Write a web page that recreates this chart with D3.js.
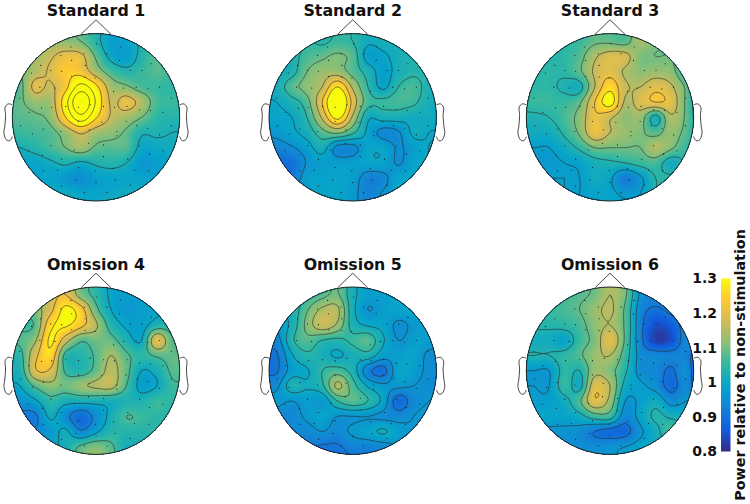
<!DOCTYPE html>
<html>
<head>
<meta charset="utf-8">
<script src="https://cdn.jsdelivr.net/npm/d3@7"></script>
<style>
  body { margin: 0; background: #fff; }
  text { font-family: "DejaVu Sans", sans-serif; font-weight: bold; fill: #111; }
</style>
</head>
<body>
<svg id="chart" width="750" height="504"></svg>
<script>
// power values, 13x13 samples across the head square
var standard1 = [
  [1.08,1.08,1.08,1.10,1.12,1.09,1.05,0.99,1.00,1.04,1.07,1.07,1.07],
  [1.10,1.10,1.12,1.13,1.12,1.10,1.04,0.98,0.99,1.03,1.07,1.07,1.07],
  [1.12,1.12,1.14,1.17,1.21,1.20,1.09,1.00,0.98,1.04,1.08,1.08,1.08],
  [1.10,1.10,1.15,1.19,1.24,1.23,1.14,1.07,1.04,1.06,1.08,1.07,1.07],
  [1.07,1.08,1.20,1.17,1.24,1.37,1.28,1.14,1.11,1.07,1.06,1.05,1.05],
  [1.07,1.09,1.13,1.14,1.31,1.50,1.33,1.17,1.21,1.15,1.07,1.06,1.06],
  [1.07,1.08,1.09,1.12,1.26,1.39,1.27,1.17,1.14,1.10,1.05,1.04,1.04],
  [1.05,1.06,1.07,1.08,1.13,1.19,1.14,1.12,1.09,1.03,1.03,1.02,1.02],
  [1.02,1.02,1.04,1.07,1.10,1.14,1.09,1.08,1.08,1.00,1.00,1.01,1.01],
  [0.99,0.99,0.99,1.01,1.03,1.01,1.03,1.04,1.02,0.97,0.98,0.99,0.99],
  [0.99,0.99,0.99,0.99,0.97,0.95,0.98,0.99,0.99,0.99,0.99,0.99,0.99],
  [1.01,1.01,1.01,1.01,1.01,0.99,0.99,1.00,1.01,1.01,1.01,1.01,1.01],
  [1.01,1.01,1.01,1.01,1.01,1.01,1.01,1.03,1.01,1.01,1.01,1.01,1.01]
];
var standard2 = [
  [1.00,1.00,1.00,1.01,1.03,1.06,1.05,1.03,1.02,1.02,1.02,1.02,1.02],
  [1.00,1.00,1.02,1.05,1.04,1.06,1.05,1.01,1.02,1.02,1.02,1.02,1.02],
  [1.00,1.01,1.03,1.07,1.09,1.11,1.08,0.98,0.99,1.02,1.03,1.03,1.03],
  [1.00,1.01,1.03,1.10,1.13,1.13,1.08,1.03,0.98,1.02,1.04,1.03,1.03],
  [1.00,1.02,1.08,1.12,1.16,1.28,1.15,1.05,0.99,1.05,1.07,1.03,1.02],
  [1.00,1.00,1.03,1.08,1.22,1.38,1.20,1.07,1.06,1.07,1.06,1.02,1.01],
  [0.99,0.99,1.00,1.05,1.17,1.30,1.15,1.01,1.02,1.02,1.01,1.01,1.00],
  [0.96,0.97,0.99,1.02,1.08,1.11,1.06,0.99,0.94,0.95,1.01,1.00,1.00],
  [0.93,0.93,0.95,0.98,1.02,0.94,0.94,0.99,0.99,0.95,0.98,1.00,1.00],
  [0.90,0.90,0.90,0.96,0.98,0.98,0.98,0.99,0.99,0.95,0.99,1.00,1.00],
  [0.92,0.92,0.92,0.98,0.985,0.99,0.98,0.93,0.94,0.99,0.99,0.99,0.99],
  [0.96,0.96,0.96,0.98,0.99,0.99,0.97,0.93,0.96,0.99,0.99,0.99,0.99],
  [0.98,0.98,0.98,0.98,0.99,0.99,0.97,0.94,0.97,0.99,0.99,0.99,0.99]
];
var standard3 = [
  [1.03,1.03,1.03,1.04,1.06,1.09,1.09,1.08,1.14,1.11,1.10,1.09,1.09],
  [1.03,1.03,1.03,1.05,1.06,1.09,1.09,1.08,1.14,1.11,1.10,1.09,1.09],
  [1.04,1.04,1.04,1.05,1.08,1.15,1.19,1.18,1.11,1.10,1.10,1.08,1.08],
  [1.05,1.05,1.05,1.05,1.09,1.17,1.20,1.15,1.12,1.13,1.12,1.05,1.05],
  [1.05,1.05,1.05,1.03,1.02,1.16,1.26,1.17,1.16,1.20,1.17,1.09,1.01],
  [1.05,1.06,1.06,1.06,1.09,1.22,1.31,1.15,1.19,1.22,1.20,1.09,0.99],
  [1.03,1.03,1.04,1.07,1.12,1.21,1.17,1.12,1.13,1.02,1.15,1.09,0.99],
  [1.00,1.01,1.01,1.05,1.11,1.21,1.16,1.13,1.11,1.08,1.13,1.08,1.02],
  [0.98,0.98,0.98,1.01,1.05,1.10,1.10,1.10,1.10,1.15,1.11,1.06,1.06],
  [0.97,0.97,0.97,0.98,0.99,1.02,1.03,1.04,1.06,1.07,1.01,1.05,1.09],
  [0.98,0.98,0.98,0.98,0.98,1.01,0.99,0.92,0.97,1.04,1.05,1.05,1.05],
  [0.98,0.98,0.98,0.98,0.98,0.99,0.99,0.97,0.98,1.04,1.04,1.04,1.04],
  [0.98,0.98,0.98,0.98,0.98,0.99,1.00,0.99,1.00,1.04,1.04,1.04,1.04]
];
var omission4 = [
  [1.15,1.15,1.16,1.18,1.20,1.11,1.05,0.99,0.98,0.98,0.98,0.98,0.98],
  [1.13,1.13,1.15,1.18,1.21,1.11,1.05,0.99,0.98,0.98,0.98,0.98,0.98],
  [1.08,1.08,1.11,1.19,1.30,1.24,1.09,1.00,0.97,0.98,0.99,0.99,0.99],
  [1.06,1.06,1.08,1.26,1.29,1.23,1.15,1.04,0.99,0.98,1.03,1.04,1.04],
  [1.08,1.08,1.13,1.29,1.17,1.08,1.10,1.09,1.03,1.00,1.20,1.08,1.07],
  [1.05,1.05,1.19,1.26,1.05,1.04,1.08,1.14,1.08,1.05,1.08,1.09,1.09],
  [1.03,1.03,1.20,1.20,1.06,1.04,1.09,1.16,1.09,1.00,1.02,1.08,1.08],
  [1.00,1.00,1.08,1.12,1.10,1.13,1.15,1.16,1.07,0.98,1.00,1.06,1.06],
  [0.96,0.96,0.99,1.05,1.02,1.02,1.02,1.02,1.03,1.03,1.06,1.05,1.05],
  [0.92,0.92,0.92,1.01,0.95,0.89,0.95,1.02,1.07,1.06,1.05,1.04,1.04],
  [0.94,0.94,0.94,0.97,1.01,0.94,0.99,1.04,1.04,1.04,1.04,1.04,1.04],
  [0.99,0.99,0.99,0.99,1.02,1.08,1.11,1.08,1.02,1.03,1.04,1.04,1.04],
  [1.01,1.01,1.01,1.01,1.04,1.09,1.13,1.09,1.04,1.03,1.04,1.04,1.04]
];
var omission5 = [
  [1.02,1.02,1.02,1.04,1.08,1.10,1.02,0.98,0.98,0.99,0.99,0.99,0.99],
  [1.02,1.02,1.02,1.05,1.08,1.10,1.02,0.98,0.98,0.99,0.99,0.99,0.99],
  [1.01,1.01,1.02,1.09,1.15,1.15,1.02,0.96,0.98,0.99,0.99,0.99,0.99],
  [0.97,0.97,1.02,1.11,1.17,1.13,1.03,1.00,0.99,0.95,0.97,0.98,0.98],
  [0.94,0.94,1.04,1.08,1.05,1.04,1.06,1.08,1.01,0.96,0.98,0.98,0.98],
  [0.91,0.91,1.00,1.04,1.02,1.00,1.02,1.03,0.98,0.98,0.99,0.95,0.95],
  [0.91,0.91,0.98,1.00,1.05,1.07,1.03,0.93,0.90,0.99,0.98,0.95,0.95],
  [0.95,0.95,1.03,1.01,1.04,1.15,1.07,1.00,0.97,0.97,0.96,0.95,0.95],
  [0.97,0.97,0.96,0.98,0.97,1.05,1.08,1.05,0.99,0.89,0.94,0.96,0.96],
  [0.94,0.94,0.94,0.97,0.99,0.96,0.96,0.96,0.95,0.94,0.96,0.97,0.97],
  [0.94,0.94,0.94,0.94,0.96,0.94,0.97,0.99,1.01,0.98,0.96,0.96,0.96],
  [0.92,0.92,0.92,0.92,0.91,0.91,0.93,0.93,0.94,0.96,0.96,0.96,0.96],
  [0.90,0.90,0.90,0.90,0.90,0.90,0.91,0.91,0.93,0.96,0.96,0.96,0.96]
];
var omission6 = [
  [1.06,1.06,1.06,1.07,1.08,1.10,1.15,1.10,0.96,0.94,0.96,0.96,0.96],
  [1.06,1.06,1.06,1.07,1.08,1.10,1.15,1.10,0.96,0.94,0.96,0.97,0.97],
  [1.06,1.06,1.06,1.07,1.09,1.13,1.16,1.08,0.94,0.90,0.93,0.97,0.97],
  [1.04,1.04,1.04,1.05,1.07,1.12,1.15,1.08,0.93,0.85,0.87,0.94,0.95],
  [1.01,1.01,1.01,0.99,1.06,1.11,1.20,1.08,0.93,0.83,0.85,0.94,0.96],
  [1.03,1.03,1.03,1.05,1.08,1.13,1.15,1.06,0.95,0.94,0.93,0.93,0.86],
  [0.97,0.97,0.97,1.05,1.03,1.13,1.11,1.04,0.95,0.94,0.90,0.95,0.81],
  [0.97,0.97,0.97,1.06,1.01,1.19,1.15,1.01,0.98,0.95,0.89,0.94,0.86],
  [0.98,0.98,0.98,1.01,1.08,1.20,1.13,0.97,0.98,1.01,0.95,0.97,0.98],
  [0.99,0.99,0.99,0.99,1.01,1.06,1.06,0.94,0.99,1.04,1.02,1.01,1.01],
  [0.96,0.96,0.96,0.96,0.95,0.91,0.89,0.89,0.96,1.01,1.07,1.01,1.01],
  [0.95,0.95,0.95,0.95,0.95,0.95,0.96,0.97,0.99,1.01,1.01,1.01,1.01],
  [0.95,0.95,0.95,0.95,0.95,0.95,0.96,0.97,0.99,1.01,1.01,1.01,1.01]
];

// contour levels differ per map
var levels1 = [1.02, 1.10, 1.18, 1.26, 1.34, 1.42];
var levels2 = [0.955, 1.00, 1.05, 1.10, 1.16, 1.22, 1.28];
var levels3 = [0.98, 1.04, 1.10, 1.16, 1.22, 1.28];
var levels4 = [0.93, 1.00, 1.07, 1.14, 1.21, 1.28];
var levels5 = [0.915, 0.96, 1.005, 1.05, 1.095, 1.14];
var levels6 = [0.91, 0.97, 1.03, 1.09, 1.15, 1.21];

var titles = ['Standard 1', 'Standard 2', 'Standard 3', 'Omission 4', 'Omission 5', 'Omission 6'];
var maps = [standard1, standard2, standard3, omission4, omission5, omission6];
var levels = [levels1, levels2, levels3, levels4, levels5, levels6];

// electrode positions in head units
var electrodes = [[-.30,-.84],[-.14,-.76],[-.42,-.74],[-.66,-.62],[-.54,-.56],[-.29,-.68],[-.13,-.62],[-.41,-.55],[.13,-.76],[.28,-.68],[.29,-.84],[.01,-.88],[.41,-.56],[.55,-.56],[.66,-.64],[-.77,-.53],[-.67,-.36],[-.49,-.35],[-.29,-.49],[-.13,-.48],[-.01,-.47],[.21,-.31],[.33,-.35],[.48,-.36],[.62,-.34],[.76,-.36],[-.91,-.23],[-.80,-.06],[-.65,-.11],[-.53,-.12],[-.36,-.13],[-.21,-.12],[-.07,-.15],[.09,-.13],[.22,-.12],[.37,-.13],[.52,-.09],[.65,-.08],[.80,-.06],[.90,-.23],[-.90,.10],[-.76,.20],[-.63,.14],[-.42,.17],[-.21,.05],[-.08,.15],[.07,.06],[.25,.17],[.36,.05],[.49,.10],[.62,.13],[.76,.21],[.90,.10],[-.81,.40],[-.64,.45],[-.54,.34],[-.26,.39],[-.09,.31],[.09,.33],[.25,.22],[.38,.50],[.52,.34],[.64,.44],[.80,.40],[-.63,.64],[-.46,.63],[-.41,.50],[-.21,.60],[-.01,.64],[.09,.47],[.21,.61],[.46,.63],[.63,.64],[-.41,.82],[-.24,.75],[0,.78],[.23,.75],[.41,.81],[-.14,.90],[.13,.90]];

var tickValues = [0.8, 0.9, 1, 1.1, 1.2, 1.3];
var colorStops = ['#352a87', '#0f5cdd', '#1481d6', '#06a4ca', '#2eb7a4', '#87bf77', '#d1bb59', '#fec832', '#f9fb0e'];

var centerX = [96, 352.7, 610];
var centerY = [117.3, 370.7];
var R = 83.7;
var span = 12 / 11; // the 13 samples run a little past the head edge
var factor = 8;

var color = d3.scaleLinear()
    .domain(d3.range(colorStops.length).map(function (i) { return 0.8 + 0.5 * i / (colorStops.length - 1); }))
    .range(colorStops)
    .clamp(true);

var svg = d3.select('#chart');
var defs = svg.append('defs');

function catmull(p0, p1, p2, p3, t) {
    return 0.5 * (2 * p1 + (p2 - p0) * t + (2 * p0 - 5 * p1 + 4 * p2 - p3) * t * t + (3 * p1 - p0 - 3 * p2 + p3) * t * t * t);
}

// resample the coarse table so the contours come out smooth
function upsample(grid) {
    var n = grid.length;
    var size = (n - 1) * factor + 1;
    var out = new Array(size * size);
    function at(r, c) {
        return grid[Math.max(0, Math.min(n - 1, r))][Math.max(0, Math.min(n - 1, c))];
    }
    for (var y = 0; y < size; y++) {
        var gy = y / factor, r = Math.min(n - 2, Math.floor(gy)), ty = gy - r;
        for (var x = 0; x < size; x++) {
            var gx = x / factor, c = Math.min(n - 2, Math.floor(gx)), tx = gx - c;
            var col = [-1, 0, 1, 2].map(function (dr) {
                return catmull(at(r + dr, c - 1), at(r + dr, c), at(r + dr, c + 1), at(r + dr, c + 2), tx);
            });
            out[y * size + x] = catmull(col[0], col[1], col[2], col[3], ty);
        }
    }
    return { values: out, size: size };
}

function drawMap(i) {
    var cx = centerX[i % 3];
    var cy = centerY[Math.floor(i / 3)];
    var up = upsample(maps[i]);
    var g = svg.append('g');

    var headX = d3.scaleLinear().domain([-1, 1]).range([cx - R, cx + R]);
    var headY = d3.scaleLinear().domain([-1, 1]).range([cy - R, cy + R]);
    var gridX = d3.scaleLinear().domain([0.5, up.size - 0.5]).range([headX(-span), headX(span)]);
    var gridY = d3.scaleLinear().domain([0.5, up.size - 0.5]).range([headY(-span), headY(span)]);
    var path = d3.geoPath(d3.geoTransform({
        point: function (x, y) { this.stream.point(gridX(x), gridY(y)); }
    }));

    defs.append('clipPath').attr('id', 'head' + i)
        .append('circle').attr('cx', cx).attr('cy', cy).attr('r', R);

    var inside = g.append('g').attr('clip-path', 'url(#head' + i + ')');
    var contours = d3.contours().size([up.size, up.size]);

    inside.selectAll('path.band')
        .data(contours.thresholds(d3.range(0.7, 1.305, 0.005))(up.values))
        .enter().append('path')
        .attr('class', 'band')
        .attr('d', path)
        .attr('fill', function (d) { return color(d.value); });

    inside.selectAll('path.level')
        .data(contours.thresholds(levels[i])(up.values))
        .enter().append('path')
        .attr('class', 'level')
        .attr('d', path)
        .attr('fill', 'none')
        .attr('stroke', '#2a2a2a')
        .attr('stroke-width', 0.6);

    inside.selectAll('circle')
        .data(electrodes)
        .enter().append('circle')
        .attr('cx', function (d) { return headX(d[0]); })
        .attr('cy', function (d) { return headY(d[1]); })
        .attr('r', 0.55)
        .attr('fill', '#111');

    // head, nose and ears
    g.append('circle').attr('cx', cx).attr('cy', cy).attr('r', R)
        .attr('fill', 'none').attr('stroke', '#222').attr('stroke-width', 1);

    var line = d3.line().x(function (d) { return headX(d[0]); }).y(function (d) { return headY(d[1]); });
    var outline = g.append('g').attr('fill', 'none').attr('stroke', '#333').attr('stroke-width', 0.9);
    outline.append('path').attr('d', line([[-0.18, -0.99], [0, -1.165], [0.18, -0.99]]));

    var ear = d3.line().curve(d3.curveCatmullRom)
        .x(function (d) { return headX(d[0]); }).y(function (d) { return headY(d[1]); });
    var earPoints = [[1.0, -0.15], [1.05, -0.16], [1.085, -0.12], [1.08, -0.02], [1.09, 0.11], [1.10, 0.19], [1.07, 0.27], [1.03, 0.28], [1.0, 0.23]];
    outline.append('path').attr('d', ear(earPoints));
    outline.append('path').attr('d', ear(earPoints.map(function (d) { return [-d[0], d[1]]; })));

    svg.append('text')
        .attr('x', cx)
        .attr('y', cy - 101)
        .attr('text-anchor', 'middle')
        .style('font-size', '15.8px')
        .text(titles[i]);
}

d3.range(maps.length).forEach(drawMap);

// colour bar
var barY = d3.scaleLinear().domain([0.8, 1.3]).range([451.5, 278.5]);
var grad = defs.append('linearGradient').attr('id', 'bar')
    .attr('x1', 0).attr('y1', 1).attr('x2', 0).attr('y2', 0);
grad.selectAll('stop')
    .data(colorStops)
    .enter().append('stop')
    .attr('offset', function (d, i) { return i / (colorStops.length - 1); })
    .attr('stop-color', function (d) { return d; });

svg.append('rect')
    .attr('x', 721).attr('y', barY(1.3))
    .attr('width', 9.5).attr('height', barY(0.8) - barY(1.3))
    .attr('fill', 'url(#bar)');

var axis = d3.axisLeft(barY).tickValues(tickValues).tickSize(0).tickPadding(0)
    .tickFormat(function (d) { return String(d); });
var axisG = svg.append('g').attr('transform', 'translate(717,0)').call(axis);
axisG.select('.domain').remove();
axisG.selectAll('text').style('font-size', '14px').style('font-family', '"DejaVu Sans", sans-serif');

svg.append('text')
    .attr('transform', 'translate(745,365) rotate(-90)')
    .attr('text-anchor', 'middle')
    .style('font-size', '14.3px')
    .text('Power relative to non-stimulation');
</script>
</body>
</html>
